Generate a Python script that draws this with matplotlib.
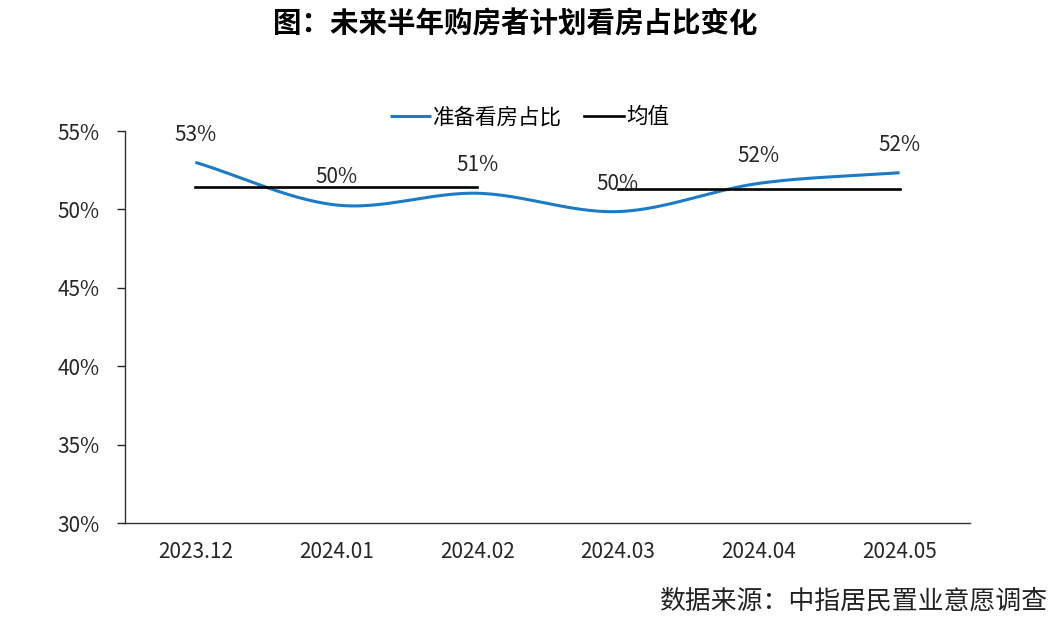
import matplotlib
matplotlib.use("Agg")
import matplotlib.pyplot as plt
import numpy as np

plt.rcParams["font.family"] = ["Noto Sans CJK SC", "DejaVu Sans"]

# =========================
# Data
# =========================
months = ["2023.12", "2024.01", "2024.02", "2024.03", "2024.04", "2024.05"]
share = [53.0, 50.28, 51.03, 49.86, 51.66, 52.34]
share_labels = ["53%", "50%", "51%", "50%", "52%", "52%"]
# 均值: one segment per three months
mean_groups = [[0, 2], [3, 5]]
mean_values = [51.45, 51.3]

yticks = [30, 35, 40, 45, 50, 55]

line_color = "#1B7BC7"


def smooth(xs, ys, n=30):
    # Catmull-Rom curve through the points, like Excel's smoothed line
    xs = np.asarray(xs, float)
    ys = np.asarray(ys, float)
    px = np.concatenate([[2 * xs[0] - xs[1]], xs, [2 * xs[-1] - xs[-2]]])
    py = np.concatenate([[2 * ys[0] - ys[1]], ys, [2 * ys[-1] - ys[-2]]])
    ox, oy = [], []
    t = np.linspace(0, 1, n)
    for i in range(1, len(px) - 2):
        for p, out in ((px, ox), (py, oy)):
            p0, p1, p2, p3 = p[i - 1], p[i], p[i + 1], p[i + 2]
            out.extend(0.5 * ((2 * p1) + (-p0 + p2) * t
                              + (2 * p0 - 5 * p1 + 4 * p2 - p3) * t ** 2
                              + (-p0 + 3 * p1 - 3 * p2 + p3) * t ** 3))
    return np.array(ox), np.array(oy)


fig = plt.figure(figsize=(10.64, 6.25), dpi=100)
ax = fig.add_axes([0.1175, 0.1632, 0.7942, 0.6272])

x = np.arange(len(months))
sx, sy = smooth(x, share)
ax.plot(sx, sy, color=line_color, lw=2.2, label="准备看房占比", solid_capstyle="butt")

for k, (g, m) in enumerate(zip(mean_groups, mean_values)):
    ax.plot([x[g[0]], x[g[1]]], [m, m], color="black", lw=1.9,
            label="均值" if k == 0 else None)

for xi, yi, s in zip(x, share, share_labels):
    ax.annotate(s, (xi, yi), xytext=(0, 20), textcoords="offset points",
                ha="center", va="center", fontsize=15, color="#262626")

ax.set_xlim(-0.5, len(months) - 0.5)
ax.set_ylim(30, 55)
ax.set_xticks(x)
ax.set_xticklabels(months, fontsize=15)
ax.set_yticks(yticks)
ax.set_yticklabels([f"{v}%" for v in yticks], fontsize=15)
ax.tick_params(axis="x", length=0, pad=13, colors="#262626")
ax.tick_params(axis="y", length=6, width=1, pad=12, colors="#262626")

for side in ["top", "right"]:
    ax.spines[side].set_visible(False)
for side in ["left", "bottom"]:
    ax.spines[side].set_color("#333333")
    ax.spines[side].set_linewidth(1.0)

ax.legend(loc="lower center", bbox_to_anchor=(0.479, 0.985), ncol=2, frameon=False,
          fontsize=15.5, handlelength=1.9, handletextpad=0.1, columnspacing=1.0,
          borderaxespad=0.0)

fig.text(0.484, 0.96, "图：未来半年购房者计划看房占比变化", ha="center", va="center",
         fontsize=20.5, fontweight="bold")
fig.text(0.985, 0.038, "数据来源：中指居民置业意愿调查", ha="right", va="center",
         fontsize=18.6, color="#222222")

fig.savefig("out.png", dpi=100)
